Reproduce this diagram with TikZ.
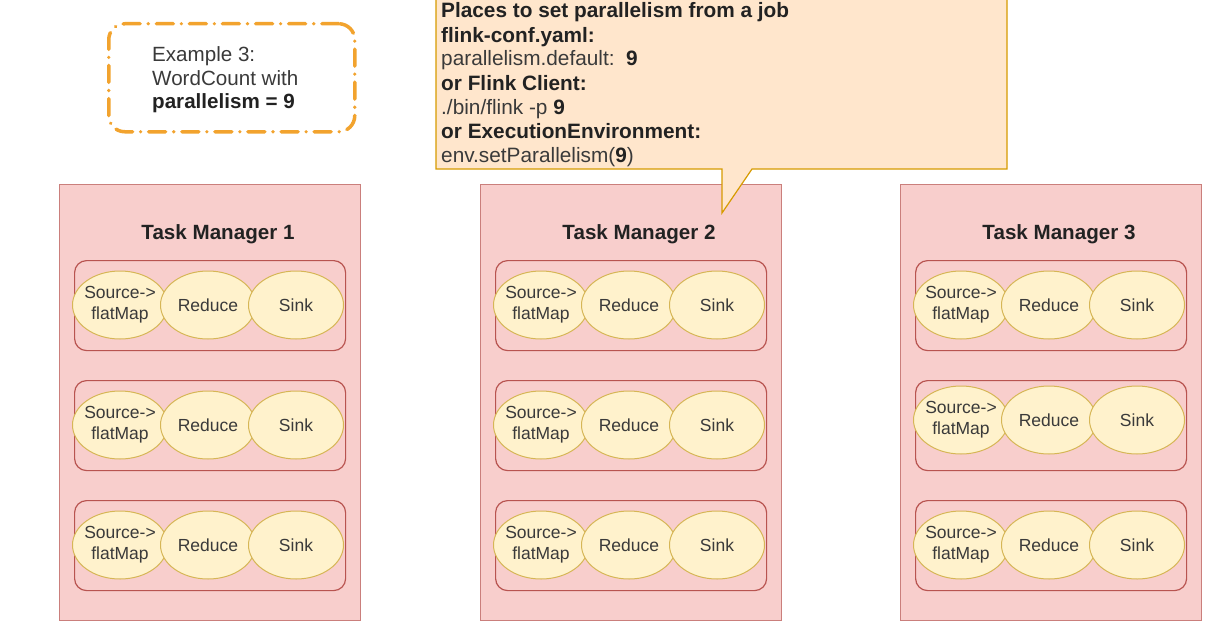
\documentclass[tikz,border=0pt]{standalone}
\usepackage{fontspec}
\setmainfont{Liberation Sans}
\usetikzlibrary{shapes.geometric}
\definecolor{tmfill}{HTML}{F8CECC}
\definecolor{tmline}{HTML}{B85450}
\definecolor{elfill}{HTML}{FFF2CC}
\definecolor{elline}{HTML}{D6B656}
\definecolor{cofill}{HTML}{FFE6CC}
\definecolor{coline}{HTML}{D79B00}
\definecolor{exline}{HTML}{F2A32E}
\definecolor{txt}{HTML}{222222}
\definecolor{txtl}{HTML}{3A3A3A}
\begin{document}
\begin{tikzpicture}[x=1pt,y=-1pt,
  tmbox/.style={draw=tmline!75, fill=tmfill, line width=1pt, inner sep=0pt, anchor=north west},
  slotbox/.style={draw=tmline, fill=tmfill, line width=1.2pt, rounded corners=12pt, inner sep=0pt, anchor=north west, minimum width=271pt, minimum height=90pt},
  op/.style={ellipse, draw=elline, fill=elfill, line width=1pt, minimum width=95pt, minimum height=68pt, inner xsep=-5pt, inner ysep=-6pt, align=center, font=\fontsize{17.5}{21}\selectfont, text=txtl},
  title/.style={font=\fontsize{20.6}{24}\selectfont\bfseries, text=txt, anchor=base, inner sep=0pt},
  cline/.style={font=\fontsize{20.8}{24}\selectfont, anchor=base west, inner sep=0pt, text=txtl},
  cbold/.style={cline, font=\fontsize{20.8}{24}\selectfont\bfseries, text=txt},
  eline/.style={font=\fontsize{20.6}{24}\selectfont, anchor=base west, inner sep=0pt, text=txtl},
  ebold/.style={eline, font=\fontsize{20.6}{24}\selectfont\bfseries, text=txt},
  exbox/.style={draw=exline, line width=3.5pt, dash pattern=on 17pt off 8pt on 0.1pt off 8pt, line cap=round, rounded corners=16pt, inner sep=0pt, anchor=north west, minimum width=246pt, minimum height=108pt}
]
\useasboundingbox (0,0) rectangle (1230,634);
\fill[white] (0,0) rectangle (1230,634);

% task managers
\foreach \i/\dx in {1/0,2/421,3/841}{
  \node[tmbox, minimum width=301pt, minimum height=436pt] (tm\i) at (59+\dx,184) {};
  \node[title] (title\i) at (218+\dx,239) {Task Manager \i};
  \foreach \r/\top in {1/260,2/380,3/500}{
    \pgfmathsetmacro\ey{\top+45-5*and(\i==3,\r==2)}
    \node[slotbox] (slot\i\r) at (74+\dx,\top) {};
    \node[op] (src\i\r) at (120+\dx,\ey) {Source->\\flatMap};
    \node[op] (red\i\r) at (208+\dx,\ey) {Reduce};
    \node[op] (snk\i\r) at (296+\dx,\ey) {Sink};
  }
}

% callout
\filldraw[fill=cofill, draw=coline, line width=1.2pt, line join=miter]
  (436,-3) -- (1007,-3) -- (1007,169) -- (752,169) -- (722,213) -- (722,169) -- (436,169) -- cycle;
\node[cbold] (c1) at (441,18) {Places to set parallelism from a job};
\node[cbold] (c2) at (441,42) {flink-conf.yaml:};
\node[cline] (c3) at (441,66) {parallelism.default:\ \ \textbf{\color{txt}9}};
\node[cbold] (c4) at (441,90) {or Flink Client:};
\node[cline] (c5) at (441,114) {./bin/flink -p \textbf{\color{txt}9}};
\node[cbold] (c6) at (441,138) {or ExecutionEnvironment:};
\node[cline] (c7) at (441,162) {env.setParallelism(\textbf{\color{txt}9})};

% example box
\node[exbox] (ex) at (107,22) {};
\node[eline] (e1) at (152,62) {Example 3:};
\node[eline] (e2) at (152,85) {WordCount with};
\node[ebold] (e3) at (152,108) {parallelism = 9};
\end{tikzpicture}
\end{document}
